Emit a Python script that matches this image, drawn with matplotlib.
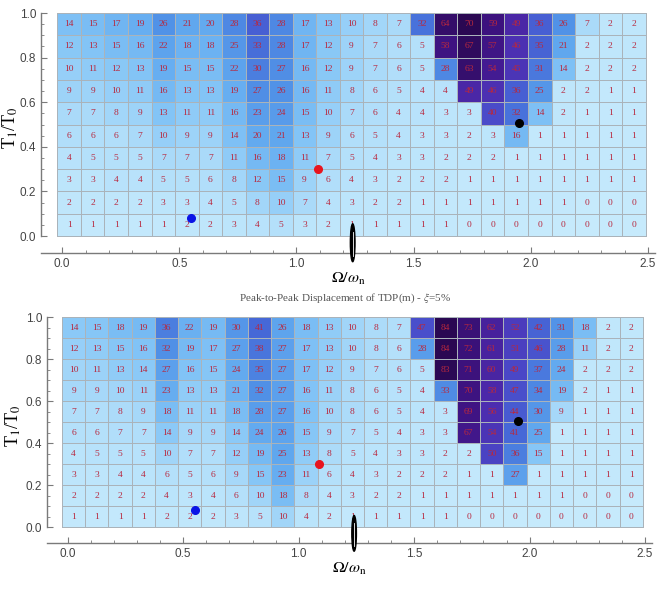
import numpy as np
import matplotlib
matplotlib.use("Agg")
import matplotlib.pyplot as plt
from matplotlib.colors import LinearSegmentedColormap, Normalize
from matplotlib.patches import Ellipse

# ---------------- data (rows from top T1/T0=0.9..1.0 down to 0.0..0.1) ----------------
freq_ratio_ticks = [0.0, 0.5, 1.0, 1.5, 2.0, 2.5]
period_ratio_ticks = [0.0, 0.2, 0.4, 0.6, 0.8, 1.0]

top_values = [
    [14, 15, 17, 19, 26, 21, 20, 28, 36, 28, 17, 13, 10, 8, 7, 32, 64, 70, 59, 49, 36, 26, 7, 2, 2],
    [12, 13, 15, 16, 22, 18, 18, 25, 33, 28, 17, 12, 9, 7, 6, 5, 58, 67, 57, 46, 35, 21, 2, 2, 2],
    [10, 11, 12, 13, 19, 15, 15, 22, 30, 27, 16, 12, 9, 7, 6, 5, 28, 63, 54, 45, 31, 14, 2, 2, 2],
    [9, 9, 10, 11, 16, 13, 13, 19, 27, 26, 16, 11, 8, 6, 5, 4, 4, 49, 46, 36, 25, 2, 2, 1, 1],
    [7, 7, 8, 9, 13, 11, 11, 16, 23, 24, 15, 10, 7, 6, 4, 4, 3, 3, 40, 32, 14, 2, 1, 1, 1],
    [6, 6, 6, 7, 10, 9, 9, 14, 20, 21, 13, 9, 6, 5, 4, 3, 3, 2, 3, 16, 1, 1, 1, 1, 1],
    [4, 5, 5, 5, 7, 7, 7, 11, 16, 18, 11, 7, 5, 4, 3, 3, 2, 2, 2, 1, 1, 1, 1, 1, 1],
    [3, 3, 4, 4, 5, 5, 6, 8, 12, 15, 9, 6, 4, 3, 2, 2, 2, 1, 1, 1, 1, 1, 1, 1, 1],
    [2, 2, 2, 2, 3, 3, 4, 5, 8, 10, 7, 4, 3, 2, 2, 1, 1, 1, 1, 1, 1, 1, 0, 0, 0],
    [1, 1, 1, 1, 1, 2, 2, 3, 4, 5, 3, 2, 1, 1, 1, 1, 1, 0, 0, 0, 0, 0, 0, 0, 0],
]

bottom_values = [
    [14, 15, 18, 19, 36, 22, 19, 30, 41, 26, 18, 13, 10, 8, 7, 47, 84, 73, 62, 52, 42, 31, 18, 2, 2],
    [12, 13, 15, 16, 32, 19, 17, 27, 38, 27, 17, 13, 10, 8, 6, 28, 84, 72, 61, 51, 46, 28, 11, 2, 2],
    [10, 11, 13, 14, 27, 16, 15, 24, 35, 27, 17, 12, 9, 7, 6, 5, 83, 71, 60, 49, 37, 24, 2, 2, 2],
    [9, 9, 10, 11, 23, 13, 13, 21, 32, 27, 16, 11, 8, 6, 5, 4, 33, 70, 58, 47, 34, 19, 2, 1, 1],
    [7, 7, 8, 9, 18, 11, 11, 18, 28, 27, 16, 10, 8, 6, 5, 4, 3, 69, 56, 44, 30, 9, 1, 1, 1],
    [6, 6, 7, 7, 14, 9, 9, 14, 24, 26, 15, 9, 7, 5, 4, 3, 3, 67, 54, 41, 25, 1, 1, 1, 1],
    [4, 5, 5, 5, 10, 7, 7, 12, 19, 25, 13, 8, 5, 4, 3, 3, 2, 2, 50, 36, 15, 1, 1, 1, 1],
    [3, 3, 4, 4, 6, 5, 6, 9, 15, 23, 11, 6, 4, 3, 2, 2, 2, 1, 1, 27, 1, 1, 1, 1, 1],
    [2, 2, 2, 2, 4, 3, 4, 6, 10, 18, 8, 4, 3, 2, 2, 1, 1, 1, 1, 1, 1, 1, 0, 0, 0],
    [1, 1, 1, 1, 2, 2, 2, 3, 5, 10, 4, 2, 1, 1, 1, 1, 1, 0, 0, 0, 0, 0, 0, 0, 0],
]

# marked points (Omega/omega_n, T1/T0)
points_x = [0.55, 1.09, 1.95]
points_y = [0.08, 0.30, 0.505]
points_c = ["#0a14e6", "#e8141e", "#000000"]
marker_x = 1.24  # vertical black marker on the frequency axis

title_bottom = "Peak-to-Peak Displacement of TDP(m) - $\\xi$=5%"

# ---------------- style ----------------
cmap = LinearSegmentedColormap.from_list("mma", [
    (0.00, "#c6eafc"), (0.08, "#b2dffa"), (0.18, "#84c5f6"), (0.28, "#64acf0"),
    (0.38, "#5090e6"), (0.48, "#466ad8"), (0.58, "#4a48c8"), (0.68, "#4c2aac"),
    (0.82, "#3f1484"), (1.00, "#2a0852")])

plt.rcParams["mathtext.fontset"] = "stix"

fig = plt.figure(figsize=(6.64, 5.90), dpi=100)

def draw(ax, vals, xedge0, xedge1, ylab_x):
    arr = np.array(vals[::-1], dtype=float)
    nrow, ncol = arr.shape
    xe = np.linspace(xedge0, xedge1, ncol + 1)
    ye = np.linspace(0.0, 1.0, nrow + 1)
    ax.pcolormesh(xe, ye, arr, cmap=cmap, norm=Normalize(0, arr.max()),
                  edgecolors="#aab3ba", linewidth=0.7, zorder=1)
    xc = 0.5 * (xe[:-1] + xe[1:])
    yc = 0.5 * (ye[:-1] + ye[1:])
    for i in range(nrow):
        for j in range(ncol):
            ax.text(xc[j], yc[i], f"{int(arr[i, j])}", ha="center", va="center",
                    fontsize=6.8, color="#b8283e", family="Liberation Serif", zorder=3)
    for px, py, pc in zip(points_x, points_y, points_c):
        ax.plot(px, py, "o", color=pc, markersize=5.5, zorder=4)
    ax.set_xlim(-0.09, 2.53)
    ax.set_ylim(-0.076, 1.0)
    for s in ["top", "right"]:
        ax.spines[s].set_visible(False)
    for s in ["left", "bottom"]:
        ax.spines[s].set_color("#7a7a7a")
        ax.spines[s].set_linewidth(1.0)
    ax.spines["left"].set_bounds(0.0, 1.0)
    ax.set_xticks(freq_ratio_ticks)
    ax.set_xticklabels([f"{t:.1f}" for t in freq_ratio_ticks])
    ax.set_xticks(np.arange(0, 2.51, 0.1), minor=True)
    ax.set_yticks(period_ratio_ticks)
    ax.set_yticklabels([f"{t:.1f}" for t in period_ratio_ticks])
    ax.set_yticks(np.arange(0, 1.001, 0.05), minor=True)
    ax.tick_params(which="both", direction="in", colors="#7a7a7a", labelcolor="#444444",
                   labelsize=8.5)
    ax.tick_params(which="major", length=4)
    ax.tick_params(which="minor", length=2)
    for lab in ax.get_xticklabels() + ax.get_yticklabels():
        lab.set_family("Liberation Sans")
    ax.set_xlabel("$\\mathrm{\\Omega}/\\omega_\\mathrm{n}$", fontsize=11.5, labelpad=1)
    ax.set_ylabel("T$_1$/T$_0$", fontsize=13, family="Liberation Serif")
    ax.yaxis.set_label_coords(ylab_x, 0.52)
    # needle marker
    e = Ellipse((marker_x, -0.03), 0.02, 0.17, facecolor="black", edgecolor="black",
                zorder=5, clip_on=False)
    ax.add_patch(e)
    ax.plot([marker_x, marker_x], [-0.09, 0.02], color="white", lw=0.6, zorder=6,
            clip_on=False)

ax1 = fig.add_axes([41 / 664, (590 - 253) / 590, 614 / 664, 240 / 590])
draw(ax1, top_values, -0.02, 2.49, -0.034)

ax2 = fig.add_axes([47 / 664, (590 - 543) / 590, 605 / 664, 226 / 590])
draw(ax2, bottom_values, -0.025, 2.49, -0.04)

fig.text(345 / 664, 1 - 298 / 590, title_bottom, ha="center", va="center",
         fontsize=8, color="#555555", family="Liberation Serif")

fig.savefig("out.png", dpi=100)
